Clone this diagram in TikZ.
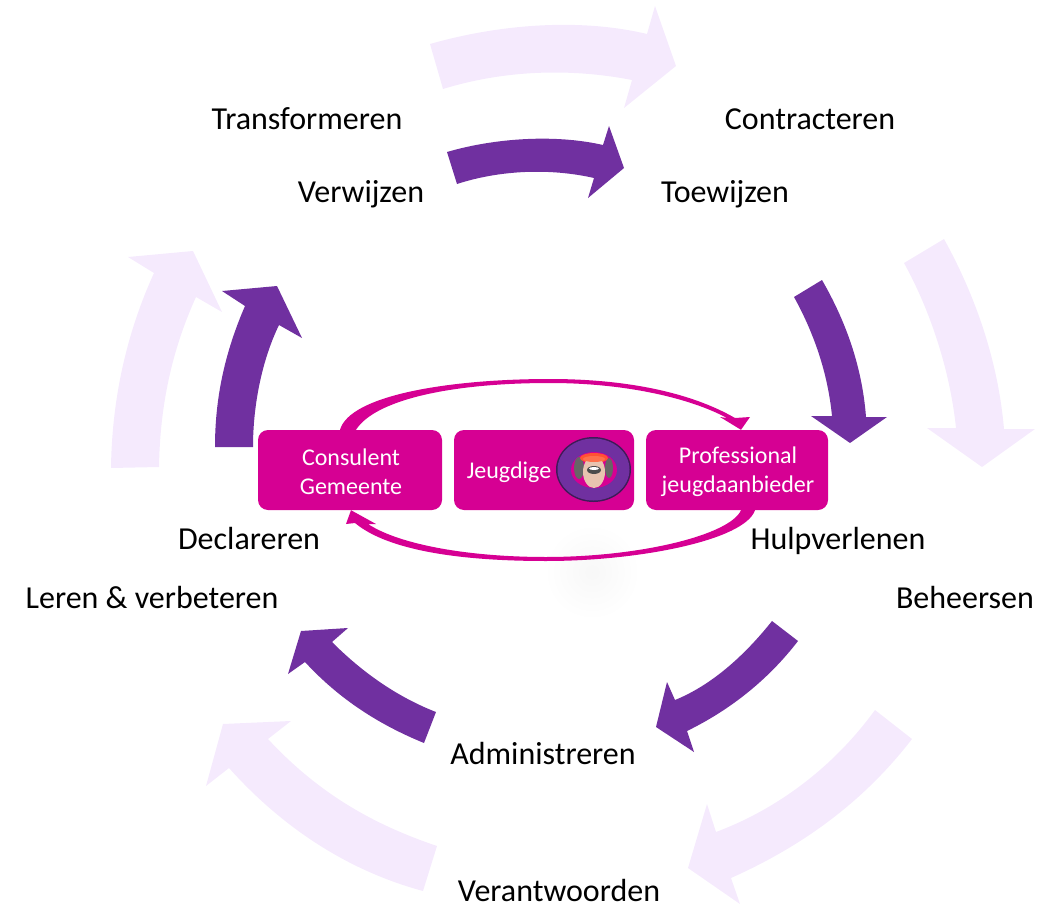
\documentclass[tikz,border=0pt]{standalone}
\usepackage{fontspec}
\setmainfont{Carlito}
\definecolor{paars}{HTML}{7030A0}
\definecolor{lila}{HTML}{F5EAFD}
\definecolor{roze}{HTML}{D60093}
\definecolor{huid}{HTML}{E8C4B0}
\tikzset{
  donker/.style={fill=paars},
  licht/.style={fill=lila},
  blok/.style={fill=roze, rounded corners=10pt, minimum height=80pt, inner sep=0pt},
  bloktekst/.style={text=white, align=center, font=\fontsize{24}{29}\selectfont, inner sep=0pt},
  label/.style={font=\fontsize{32}{38}\selectfont, text=black, inner sep=0pt, anchor=base}
}
\begin{document}
\begin{tikzpicture}[x=1pt,y=-1pt]
      \useasboundingbox (0,0) rectangle (1053,907);
      % vage schaduw
      \shade[inner color=black!3, outer color=white, draw=none] (592,572) circle (48);
      % lichte pijlen
      \fill[licht] (430,44) .. controls (500,24) and (580,18) .. (647,34) -- (655,6) -- (676,66)
        -- (624,108) -- (632,80) .. controls (570,68) and (505,70) .. (443,89) -- cycle;
      \fill[licht] (944,239) .. controls (975,295) and (998,360) .. (1004,429) -- (1035,429) -- (982,467)
        -- (927,428) -- (956,428) .. controls (950,370) and (930,310) .. (904,263) -- cycle;
      \fill[licht] (912,739) .. controls (865,800) and (805,845) .. (731,878) -- (740,904) -- (688,868)
        -- (707,804) -- (716,832) .. controls (780,808) and (835,765) .. (875,710) -- cycle;
      \fill[licht] (437,846) .. controls (375,825) and (320,795) .. (268,739) -- (291,721) -- (223,724)
        -- (206,786) -- (229,768) .. controls (280,825) and (345,870) .. (423,891) -- cycle;
      \fill[licht] (111,468) .. controls (112,395) and (128,330) .. (154,273) -- (128,257) -- (193,251)
        -- (222,312) -- (196,297) .. controls (172,350) and (160,405) .. (159,467) -- cycle;
      % donkere pijlen
      \fill[donker] (447,152) .. controls (495,138) and (555,134) .. (603,145) -- (609,126) -- (624,168)
        -- (588,198) -- (594,178) .. controls (550,168) and (500,170) .. (457,184) -- cycle;
      \fill[donker] (822,280) .. controls (845,320) and (862,365) .. (866,417) -- (887,417) -- (850,443)
        -- (811,416) -- (832,416) .. controls (828,375) and (815,335) .. (794,297) -- cycle;
      \fill[donker] (798,641) .. controls (768,680) and (730,710) .. (687,731) -- (694,752) -- (656,727)
        -- (667,682) -- (675,700) .. controls (712,685) and (745,655) .. (772,621) -- cycle;
      \fill[donker] (436,712) .. controls (400,698) and (365,675) .. (332,642) -- (348,628) -- (301,631)
        -- (288,674) -- (305,662) .. controls (340,700) and (380,725) .. (424,743) -- cycle;
      \fill[donker] (215,447) .. controls (215,395) and (226,350) .. (245,306) -- (222,291) -- (277,286)
        -- (302,338) -- (279,325) .. controls (262,360) and (253,405) .. (253,447) -- cycle;
      % blokken
      \node[blok, minimum width=184pt] (gemeente) at (350,470) {};
      \node[blok, minimum width=180pt] (jeugdige) at (544,470) {};
      \node[blok, minimum width=182pt] (professional) at (737,470) {};
      \node[bloktekst] (gemeentetekst) at (351,472) {Consulent\\Gemeente};
      \node[bloktekst] (jeugdigetekst) at (509,472) {Jeugdige};
      \node[bloktekst] (professionaltekst) at (738,472) {Professional\\jeugdaanbieder};
      % ronde foto
      \fill[paars!55!black] (593.5,469.5) ellipse (37.5 and 32.5);
      \fill[paars] (593.5,469.5) ellipse (36 and 31);
      \fill[roze] (594,470) ellipse (23 and 18);
      \fill[black!60] (579,468) ellipse (5 and 11);
      \fill[black!60] (609,468) ellipse (4 and 10);
      \fill[red!70!orange!80!white] (594,458) ellipse (14 and 5);
      \fill[huid] (594,472) ellipse (11 and 16);
      \fill[red!60!orange!70!white] (594,459) ellipse (11 and 3);
      \fill[black!70] (594,470) ellipse (7 and 4);
      \fill[white] (594,468.5) ellipse (5 and 1.5);
      % pijlen tussen de blokken
      \fill[roze] ([xshift=-10pt]gemeente.north) .. controls (350,395) and (450,379) .. (550,379)
        .. controls (625,379) and (690,392) .. (735,418) -- (750,417) -- ([xshift=4pt]professional.north)
        -- (720,417) -- (727,418) .. controls (690,398) and (625,383) .. (550,383)
        .. controls (450,383) and (375,400) .. ([xshift=6pt]gemeente.north) -- cycle;
      \fill[roze] ([xshift=18pt]professional.south) .. controls (745,540) and (640,561) .. (546,561)
        .. controls (450,561) and (385,548) .. (355,523) -- (346,524) -- ([xshift=1pt]gemeente.south)
        -- (376,524) -- (368,524) .. controls (400,545) and (470,557) .. (546,557)
        .. controls (640,557) and (730,535) .. ([xshift=4pt]professional.south) -- cycle;
      % teksten
      \foreach \x/\y/\naam/\tekst in {307/129/transformeren/Transformeren, 810/129/contracteren/Contracteren,
        361/202/verwijzen/Verwijzen, 725/202/toewijzen/Toewijzen, 249/549/declareren/Declareren,
        838/549/hulpverlenen/Hulpverlenen, 152/608/leren/Leren \& verbeteren, 965/608/beheersen/Beheersen,
        543/764/administreren/Administreren, 559/901/verantwoorden/Verantwoorden} {
        \node[label] (\naam) at (\x,\y) {\tekst};
      }
    \end{tikzpicture}
\end{document}
